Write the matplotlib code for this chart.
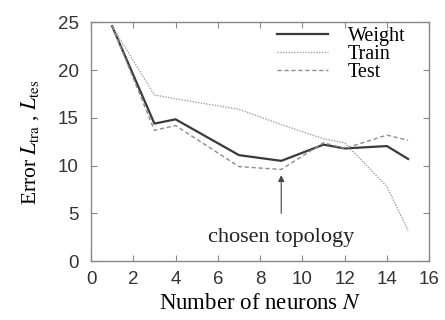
import matplotlib
matplotlib.use("Agg")
import matplotlib.pyplot as plt

# values
neurons = [1, 3, 4, 7, 9, 11, 12, 14, 15]
weight = [24.6, 14.4, 14.85, 11.1, 10.5, 12.2, 11.8, 12.05, 10.7]
train = [24.6, 17.4, 17.0, 15.9, 14.3, 12.8, 12.4, 7.8, 3.2]
test = [24.6, 13.7, 14.2, 9.9, 9.6, 12.4, 11.8, 13.2, 12.65]

plt.rcParams['mathtext.fontset'] = 'stix'
serif = 'Liberation Serif'
sans = 'Liberation Sans'

fig = plt.figure(figsize=(4.45, 3.2), dpi=100)
ax = fig.add_axes([0.2045, 0.184, 0.76, 0.746])

ax.plot(neurons, weight, color='#3a3a3a', lw=1.6, label='Weight')
ax.plot(neurons, train, color='#a0a0a0', lw=1.0, ls=(0, (1, 1)), label='Train')
ax.plot(neurons, test, color='#8c8c8c', lw=1.0, ls=(0, (3, 2)), label='Test')

ax.set_xlim(0, 16)
ax.set_ylim(0, 25)
ax.set_xticks(range(0, 17, 2))
ax.set_yticks(range(0, 26, 5))
ax.tick_params(axis='both', direction='in', top=True, right=True, length=4,
               color='#888888', labelsize=13.5)
ax.tick_params(axis='x', pad=7)
ax.tick_params(axis='y', pad=9)
for lab in ax.get_xticklabels() + ax.get_yticklabels():
    lab.set_fontfamily(sans)
    lab.set_color('#333333')
for sp in ax.spines.values():
    sp.set_color('#888888')
    sp.set_linewidth(1.0)

ax.set_xlabel('Number of neurons $N$', fontfamily=serif, fontsize=16.5, labelpad=4)
ax.set_ylabel(r'Error $L_{\rm tra}$ , $L_{\rm tes}$', fontfamily=serif, fontsize=15.5,
              labelpad=12)

# arrow pointing at the chosen topology
ax.annotate('', xy=(9, 9.0), xytext=(9, 5.0),
            arrowprops=dict(arrowstyle='-|>', color='#444444', lw=0.8,
                            mutation_scale=9, shrinkA=0, shrinkB=0))
ax.text(9, 2.5, 'chosen topology', ha='center', va='center',
        fontfamily=serif, fontsize=16, color='#222222')

leg = ax.legend(loc='upper right', frameon=False, handlelength=2.5,
                handletextpad=1.0, labelspacing=-0.05, borderaxespad=0.1,
                prop={'family': serif, 'size': 14.5}, bbox_to_anchor=(0.96, 1.025))

fig.savefig('out.png', dpi=100)
